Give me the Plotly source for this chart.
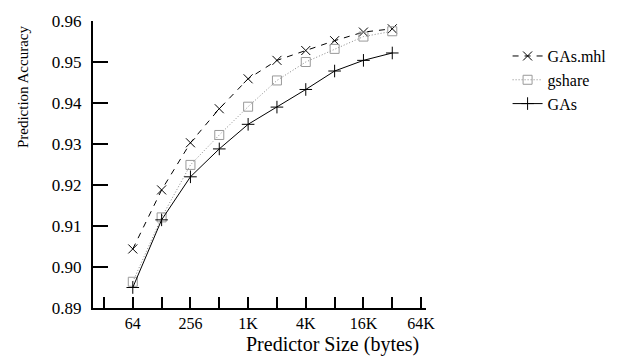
import plotly.graph_objects as go

# Predictor sizes (bytes) as log2 values: 64 .. 32K
sizes_log2 = [6, 7, 8, 9, 10, 11, 12, 13, 14, 15]

gas_mhl = [0.9044, 0.9188, 0.9303, 0.9386, 0.9459, 0.9504, 0.9528, 0.9552, 0.9573, 0.9581]
gshare = [0.8964, 0.9121, 0.9249, 0.9322, 0.9391, 0.9455, 0.9500, 0.9532, 0.9562, 0.9575]
gas = [0.8950, 0.9115, 0.9220, 0.9288, 0.9348, 0.9390, 0.9433, 0.9478, 0.9504, 0.9522]

x_tickvals = [5, 6, 7, 8, 9, 10, 11, 12, 13, 14, 15, 16]
x_ticktext = ["", "64", "", "256", "", "1K", "", "4K", "", "16K", "", "64K"]
y_tickvals = [0.89, 0.90, 0.91, 0.92, 0.93, 0.94, 0.95, 0.96]

FONT = "Liberation Serif"

fig = go.Figure()
fig.add_trace(go.Scatter(
    x=sizes_log2, y=gas_mhl, name="GAs.mhl", mode="lines+markers",
    line=dict(color="black", width=1, dash="6px,6px"),
    marker=dict(symbol="x-thin-open", size=9, color="black", line=dict(width=1, color="black")),
))
fig.add_trace(go.Scatter(
    x=sizes_log2, y=gshare, name="gshare", mode="lines+markers",
    line=dict(color="#888888", width=1, dash="1px,2px"),
    marker=dict(symbol="square-open", size=9, color="#999999", line=dict(width=1, color="#999999")),
))
fig.add_trace(go.Scatter(
    x=sizes_log2, y=gas, name="GAs", mode="lines+markers",
    line=dict(color="black", width=1),
    marker=dict(symbol="cross-thin-open", size=9, color="black", line=dict(width=1, color="black")),
))

fig.update_layout(
    width=624, height=360,
    margin=dict(l=93, r=196, t=13, b=52),
    paper_bgcolor="white", plot_bgcolor="white",
    font=dict(family=FONT, size=16, color="black"),
    showlegend=True,
    legend=dict(x=1.245, y=0.937, xanchor="left", yanchor="top",
                font=dict(family=FONT, size=16, color="black"),
                bgcolor="rgba(0,0,0,0)", tracegroupgap=0, itemsizing="trace"),
    xaxis=dict(
        range=[4.62, 16.17], tickmode="array", tickvals=x_tickvals, ticktext=x_ticktext,
        showgrid=False, zeroline=False, showline=True, linecolor="black", linewidth=2,
        ticks="inside", ticklen=11, tickwidth=1.5, tickcolor="black",
        tickfont=dict(family=FONT, size=16),
    ),
    yaxis=dict(
        range=[0.89, 0.96], tickmode="array", tickvals=y_tickvals, tickformat=".2f",
        showgrid=False, zeroline=False, showline=True, linecolor="black", linewidth=2,
        ticks="inside", ticklen=15, tickwidth=1.5, tickcolor="black",
        tickfont=dict(family=FONT, size=17), ticklabelstandoff=6,
    ),
    annotations=[
        dict(text="Predictor Size (bytes)", xref="paper", yref="paper",
             x=0.72, y=-0.128, xanchor="center", yanchor="middle", showarrow=False,
             font=dict(family=FONT, size=20)),
        dict(text="Prediction Accuracy", xref="paper", yref="paper",
             x=-0.21, y=0.77, xanchor="center", yanchor="middle", showarrow=False,
             textangle=-90, font=dict(family=FONT, size=15)),
    ],
)

fig.write_html("out.html")
